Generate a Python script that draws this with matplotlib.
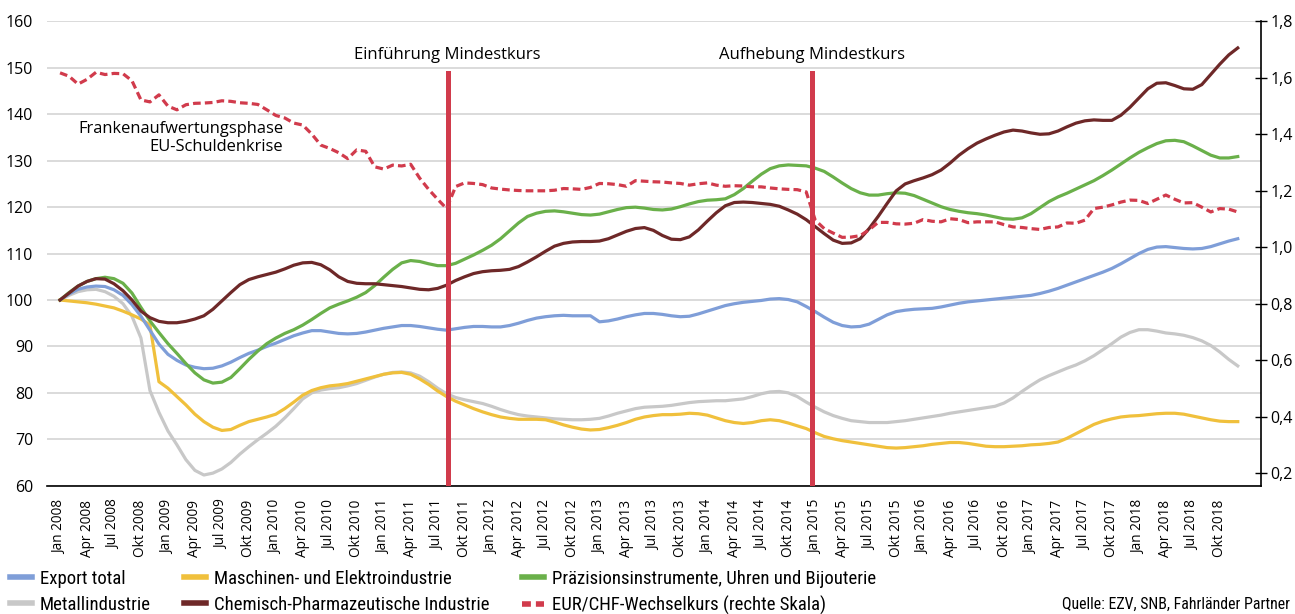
import matplotlib
matplotlib.use("Agg")
import matplotlib.pyplot as plt
from matplotlib import font_manager
from matplotlib.lines import Line2D
from matplotlib.ticker import FixedLocator, FuncFormatter

# pick fonts that exist here
installed = {f.name for f in font_manager.fontManager.ttflist}
main_font = "Open Sans" if "Open Sans" in installed else "DejaVu Sans"
narrow_font = main_font
for cand in ["Liberation Sans Narrow", "Roboto Condensed", "Open Sans Condensed"]:
    if cand in installed:
        narrow_font = cand
        break
plt.rcParams["font.family"] = [main_font, "DejaVu Sans"]

# monthly values Jan 2008 .. Dec 2018 (index 100 = Jan 2008)
export_total = [
    100.0, 101.3, 102.3, 102.8, 103.0, 102.9, 102.2, 101.0, 99.0, 96.5, 93.5, 90.5,
    88.3, 87.0, 86.0, 85.5, 85.2, 85.3, 85.8, 86.6, 87.6, 88.5, 89.2, 90.0,
    90.7, 91.5, 92.3, 92.9, 93.4, 93.4, 93.1, 92.8, 92.7, 92.8, 93.1, 93.5,
    93.9, 94.2, 94.5, 94.5, 94.3, 94.0, 93.7, 93.5, 93.8, 94.1, 94.3, 94.3,
    94.2, 94.2, 94.5, 95.0, 95.6, 96.1, 96.4, 96.6, 96.7, 96.6, 96.6, 96.6,
    95.3, 95.5, 95.9, 96.4, 96.8, 97.1, 97.1, 96.9, 96.6, 96.4, 96.5, 97.0,
    97.6, 98.2, 98.8, 99.2, 99.5, 99.7, 99.9, 100.2, 100.3, 100.1, 99.6, 98.6,
    97.5, 96.3, 95.2, 94.5, 94.2, 94.3, 94.8, 95.8, 96.8, 97.5, 97.8, 98.0,
    98.1, 98.2, 98.5, 98.9, 99.3, 99.6, 99.8, 100.0, 100.2, 100.4, 100.6, 100.8,
    101.0, 101.4, 101.9, 102.5, 103.2, 103.9, 104.6, 105.3, 106.0, 106.8, 107.8, 108.9,
    110.0, 110.9, 111.4, 111.5, 111.3, 111.1, 111.0, 111.1, 111.5, 112.1, 112.7, 113.2,
]
maschinen = [
    100.0, 99.8, 99.6, 99.4, 99.1, 98.7, 98.3, 97.6, 96.8, 95.9, 94.6, 82.4,
    81.0, 79.2, 77.4, 75.4, 73.8, 72.6, 71.9, 72.1, 73.0, 73.8, 74.3, 74.8,
    75.4, 76.6, 78.0, 79.5, 80.5, 81.1, 81.5, 81.7, 82.0, 82.5, 83.0, 83.5,
    84.0, 84.3, 84.4, 84.0, 83.0, 81.8, 80.4, 79.2, 78.2, 77.4, 76.6, 75.9,
    75.3, 74.8, 74.5, 74.3, 74.3, 74.3, 74.2, 73.7, 73.1, 72.6, 72.2, 72.0,
    72.1, 72.5, 73.0, 73.6, 74.3, 74.8, 75.1, 75.3, 75.3, 75.4, 75.6, 75.5,
    75.2, 74.6, 74.0, 73.6, 73.4, 73.6, 74.0, 74.2, 74.0, 73.5, 72.9, 72.3,
    71.4, 70.6, 70.1, 69.7, 69.4, 69.1, 68.8, 68.5, 68.2, 68.1, 68.2, 68.4,
    68.6, 68.9, 69.1, 69.3, 69.3, 69.1, 68.8, 68.5, 68.4, 68.4, 68.5, 68.6,
    68.8, 68.9, 69.1, 69.4, 70.2, 71.2, 72.2, 73.2, 73.9, 74.4, 74.8, 75.0,
    75.1, 75.3, 75.5, 75.6, 75.6, 75.4, 75.0, 74.6, 74.2, 73.9, 73.8, 73.8,
]
praezision = [
    100.0, 101.6, 103.0, 104.0, 104.6, 104.9, 104.6, 103.6, 101.5, 98.4, 95.5, 93.0,
    90.6, 88.5, 86.3, 84.3, 82.8, 82.1, 82.3, 83.3, 85.2, 87.2, 89.0, 90.6,
    91.8, 92.8, 93.6, 94.6, 95.8, 97.1, 98.3, 99.1, 99.8, 100.6, 101.6, 103.1,
    104.9, 106.6, 108.0, 108.5, 108.3, 107.8, 107.4, 107.4, 107.9, 108.8, 109.7, 110.7,
    111.8, 113.2, 114.9, 116.6, 118.0, 118.7, 119.1, 119.2, 119.0, 118.7, 118.4, 118.3,
    118.5, 119.0, 119.5, 119.9, 120.0, 119.8, 119.5, 119.4, 119.6, 120.1, 120.7, 121.2,
    121.5, 121.6, 121.8, 122.7, 124.0, 125.6, 127.1, 128.3, 128.9, 129.1, 129.0, 128.9,
    128.4, 127.7, 126.5, 125.2, 124.0, 123.1, 122.6, 122.6, 122.9, 123.1, 123.0, 122.5,
    121.7, 120.9, 120.1, 119.5, 119.1, 118.8, 118.6, 118.3, 117.9, 117.5, 117.4, 117.7,
    118.6, 119.9, 121.2, 122.2, 123.0, 123.9, 124.8, 125.7, 126.8, 128.0, 129.3, 130.6,
    131.8, 132.8, 133.7, 134.3, 134.4, 134.1, 133.2, 132.2, 131.2, 130.6, 130.6, 130.9,
]
metall = [
    100.0, 101.0, 101.8, 102.2, 102.3, 101.8, 100.8, 99.2, 96.5, 91.8, 80.5, 75.8,
    71.8, 68.8, 65.6, 63.3, 62.3, 62.7, 63.6, 65.0, 66.8, 68.4, 69.9, 71.3,
    72.8, 74.6, 76.6, 78.7, 80.0, 80.6, 80.9, 81.1, 81.5, 82.0, 82.7, 83.4,
    84.0, 84.4, 84.5, 84.3, 83.6, 82.4, 81.0, 79.8, 79.0, 78.5, 78.1, 77.7,
    77.1, 76.4, 75.8, 75.3, 75.0, 74.8, 74.6, 74.4, 74.3, 74.2, 74.2, 74.3,
    74.5, 75.0, 75.6, 76.1, 76.6, 76.9, 77.0, 77.1, 77.3, 77.6, 77.9, 78.1,
    78.2, 78.3, 78.3, 78.5, 78.7, 79.2, 79.8, 80.2, 80.3, 80.0, 79.2, 78.0,
    76.9, 75.9, 75.1, 74.5, 74.0, 73.8, 73.6, 73.6, 73.6, 73.8, 74.0, 74.3,
    74.6, 74.9, 75.2, 75.6, 75.9, 76.2, 76.5, 76.8, 77.1, 77.8, 78.9, 80.3,
    81.6, 82.8, 83.7, 84.5, 85.3, 86.0, 86.9, 88.0, 89.3, 90.6, 92.0, 93.0,
    93.6, 93.6, 93.3, 92.9, 92.7, 92.4, 91.9, 91.2, 90.2, 88.8, 87.2, 85.8,
]
chemie = [
    100.0, 101.5, 103.0, 104.0, 104.6, 104.5, 103.5, 102.0, 100.0, 97.6, 96.2, 95.4,
    95.1, 95.1, 95.4, 95.9, 96.6, 98.0, 99.8, 101.6, 103.3, 104.4, 105.0, 105.5,
    106.0, 106.7, 107.5, 108.0, 108.1, 107.6, 106.5, 105.0, 104.0, 103.6, 103.5, 103.5,
    103.3, 103.1, 102.9, 102.6, 102.3, 102.2, 102.5, 103.2, 104.2, 105.0, 105.7, 106.1,
    106.3, 106.4, 106.6, 107.2, 108.2, 109.3, 110.5, 111.6, 112.2, 112.5, 112.6, 112.6,
    112.7, 113.2, 114.0, 114.8, 115.4, 115.6, 115.0, 113.9, 113.1, 113.0, 113.6, 115.1,
    117.0, 118.8, 120.3, 121.0, 121.1, 121.0, 120.8, 120.6, 120.2, 119.4, 118.5, 117.3,
    115.8, 114.3, 112.9, 112.2, 112.3, 113.2, 115.4, 118.0, 120.8, 123.5, 125.0, 125.7,
    126.3, 127.0, 128.0, 129.5, 131.2, 132.6, 133.8, 134.7, 135.5, 136.2, 136.6, 136.4,
    136.0, 135.7, 135.8, 136.4, 137.3, 138.1, 138.6, 138.8, 138.7, 138.7, 139.8, 141.5,
    143.5, 145.5, 146.7, 146.8, 146.2, 145.5, 145.4, 146.4, 148.6, 150.8, 152.8, 154.3,
]
eur_chf = [
    1.618, 1.606, 1.578, 1.595, 1.620, 1.612, 1.616, 1.615, 1.590, 1.522, 1.515, 1.540,
    1.500, 1.487, 1.505, 1.510, 1.511, 1.513, 1.519, 1.517, 1.512, 1.510, 1.506, 1.487,
    1.467, 1.458, 1.440, 1.433, 1.401, 1.362, 1.350, 1.335, 1.314, 1.345, 1.340, 1.285,
    1.277, 1.291, 1.288, 1.294, 1.245, 1.205, 1.170, 1.137, 1.215, 1.228, 1.226, 1.222,
    1.210, 1.206, 1.203, 1.201, 1.200, 1.200, 1.200, 1.202, 1.208, 1.207, 1.205, 1.212,
    1.226, 1.225, 1.222, 1.216, 1.236, 1.234, 1.232, 1.231, 1.228, 1.226, 1.220, 1.225,
    1.228, 1.220, 1.216, 1.218, 1.217, 1.214, 1.214, 1.210, 1.207, 1.205, 1.204, 1.196,
    1.096, 1.066, 1.050, 1.035, 1.036, 1.041, 1.062, 1.088, 1.088, 1.083, 1.082, 1.085,
    1.098, 1.092, 1.090, 1.101, 1.098, 1.087, 1.090, 1.090, 1.090, 1.080, 1.072, 1.070,
    1.066, 1.063, 1.070, 1.072, 1.086, 1.085, 1.096, 1.137, 1.142, 1.150, 1.160, 1.167,
    1.166, 1.155, 1.170, 1.185, 1.170, 1.157, 1.158, 1.142, 1.125, 1.137, 1.135, 1.125,
]
months = list(range(len(export_total)))

years = list(range(2008, 2019))
quarter_names = ["Jan", "Apr", "Jul", "Okt"]
tick_labels = [f"{q} {y}" for y in years for q in quarter_names]
tick_pos = list(range(0, 3 * len(tick_labels), 3))

left_ticks = [60, 70, 80, 90, 100, 110, 120, 130, 140, 150, 160]
right_ticks = [0.2, 0.4, 0.6, 0.8, 1.0, 1.2, 1.4, 1.6, 1.8]

# events (month index) for the vertical markers
events = [(43.1, "Einführung Mindestkurs"), (83.6, "Aufhebung Mindestkurs")]

c_blue = "#7f9ed8"
c_yellow = "#f0c03c"
c_green = "#6ab04a"
c_gray = "#c8c8c8"
c_brown = "#6e2828"
c_red = "#d13b4c"

fig = plt.figure(figsize=(12.95, 6.14), dpi=100)
ax = fig.add_axes([0.0363, 0.2090, 0.9372, 0.756])
ax2 = ax.twinx()

lw = 2.3
ax.plot(months, metall, color=c_gray, lw=lw, zorder=3)
ax.plot(months, maschinen, color=c_yellow, lw=lw, zorder=3)
ax.plot(months, export_total, color=c_blue, lw=lw, zorder=3)
ax.plot(months, praezision, color=c_green, lw=lw, zorder=3)
ax.plot(months, chemie, color=c_brown, lw=lw, zorder=3)
ax2.plot(months, eur_chf, color=c_red, lw=lw, ls=(0, (2.4, 1.3)))

for x, label in events:
    ax.axvline(x, ymin=0, ymax=0.89, color=c_red, lw=3.6, zorder=4)
    ax.text(x, 152.8, label, ha="center", va="center", fontsize=12)

ax.text(24.8, 134.9, "Frankenaufwertungsphase\nEU-Schuldenkrise",
        ha="right", va="center", fontsize=11.9, linespacing=1.15)

ax.set_xlim(-1.45, 133.55)
ax.set_ylim(60, 160)
ax2.set_ylim(0.155, 1.8)

ax.yaxis.set_major_locator(FixedLocator(left_ticks))
ax.grid(axis="y", color="#d4d4d4", lw=1.2)
ax.set_axisbelow(True)
ax.tick_params(axis="y", length=0, pad=10, labelsize=11.5)
ax.set_xticks(tick_pos)
ax.set_xticklabels(tick_labels, rotation=90, fontsize=9.8)
ax.tick_params(axis="x", length=0, pad=10)

ax2.yaxis.set_major_locator(FixedLocator(right_ticks))
ax2.yaxis.set_major_formatter(FuncFormatter(lambda v, p: f"{v:.1f}".replace(".", ",")))
ax2.tick_params(axis="y", direction="inout", length=8, width=1, pad=3, labelsize=11.5)

for a in (ax, ax2):
    a.spines["top"].set_visible(False)
    a.spines["left"].set_visible(False)
ax.spines["right"].set_visible(False)
ax.spines["bottom"].set_color("black")
ax.spines["bottom"].set_linewidth(1.2)
ax2.spines["bottom"].set_visible(False)
ax2.spines["right"].set_linewidth(1.2)

# legend, filled column by column
handles = [
    Line2D([], [], color=c_blue, lw=4),
    Line2D([], [], color=c_gray, lw=4),
    Line2D([], [], color=c_yellow, lw=4),
    Line2D([], [], color=c_brown, lw=4),
    Line2D([], [], color=c_green, lw=4),
    Line2D([], [], color=c_red, lw=4, ls=(0, (1.6, 0.9))),
]
labels = [
    "Export total",
    "Metallindustrie",
    "Maschinen- und Elektroindustrie",
    "Chemisch-Pharmazeutische Industrie",
    "Präzisionsinstrumente, Uhren und Bijouterie",
    "EUR/CHF-Wechselkurs (rechte Skala)",
]
fig.legend(handles, labels, loc="upper left", bbox_to_anchor=(10 / 1295, 1 - 570 / 614),
           ncol=3, frameon=False, borderpad=0, borderaxespad=0,
           handlelength=1.17, handletextpad=0.43, columnspacing=1.75, labelspacing=0.42,
           prop={"family": narrow_font, "size": 13.5})

fig.text(1290 / 1295, 1 - 604 / 614, "Quelle: EZV, SNB, Fahrländer Partner",
         ha="right", va="center", fontsize=11.4, family=narrow_font)

fig.savefig("out.png", dpi=100)
